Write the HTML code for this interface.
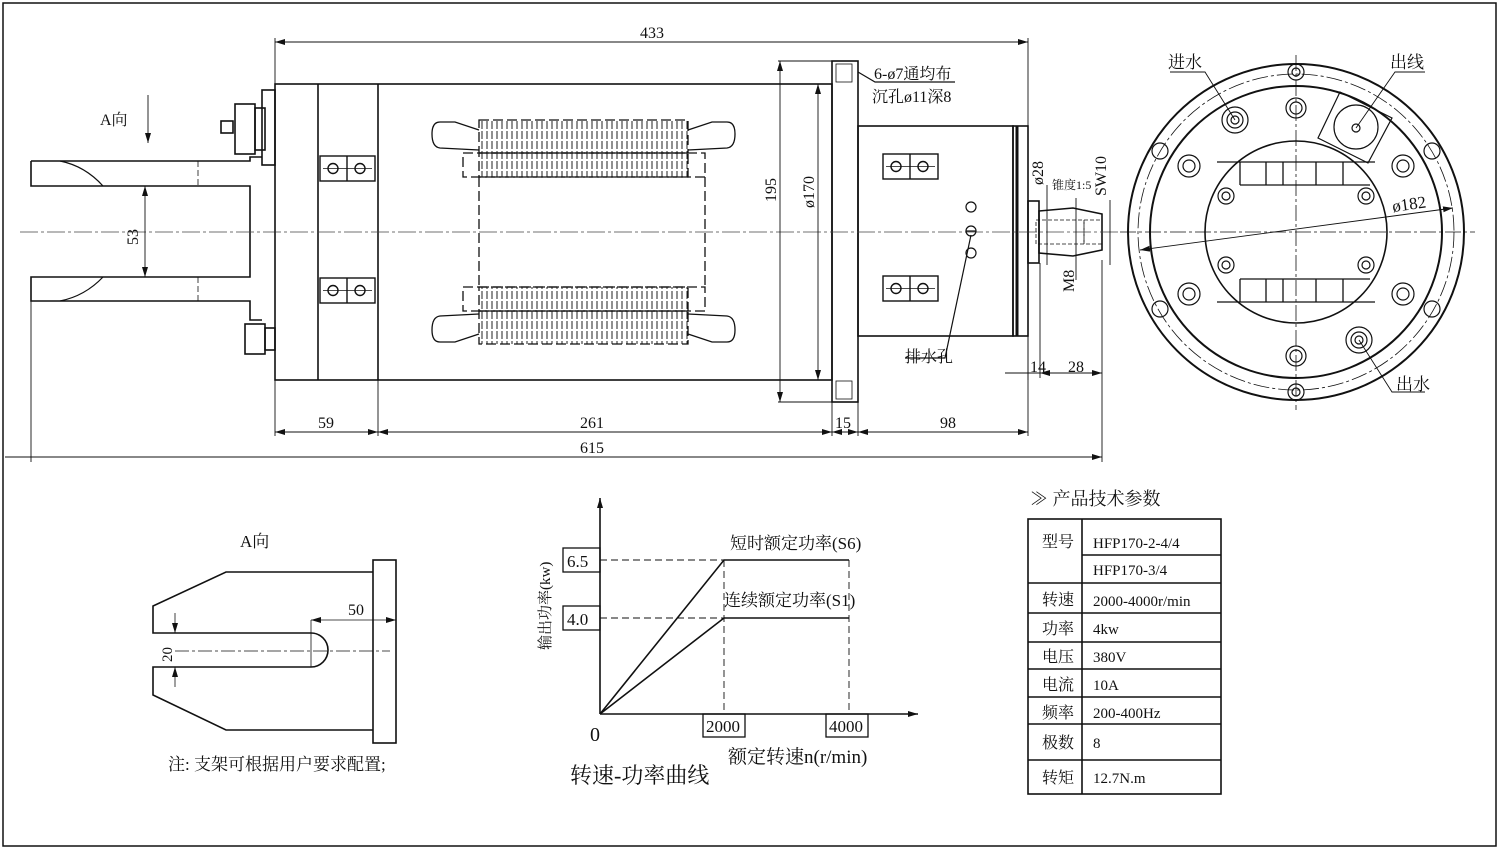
<!DOCTYPE html>
<html><head><meta charset="utf-8"><style>
html,body{margin:0;padding:0;background:#fff}
svg{display:block}
text{font-family:"Liberation Sans","Noto Sans CJK SC",sans-serif;fill:#111}
.t{font-family:"Liberation Serif","Noto Serif CJK SC",serif}
</style></head><body>
<svg width="1500" height="850" viewBox="0 0 1500 850" xmlns="http://www.w3.org/2000/svg">
<defs>
<marker id="a" viewBox="0 0 10 6" refX="10" refY="3" markerWidth="10" markerHeight="6" orient="auto-start-reverse" markerUnits="userSpaceOnUse"><path d="M0,0L10,3L0,6z" fill="#111"/></marker>
<pattern id="h" width="5" height="10" patternUnits="userSpaceOnUse"><line x1="2" y1="1" x2="2" y2="9" stroke="#222" stroke-width="1"/></pattern>
<g id="bb" fill="none" stroke="#111" stroke-width="1.4"><rect x="0" y="0" width="55" height="25"/><line x1="27" y1="0" x2="27" y2="25"/><circle cx="13" cy="12.5" r="5"/><circle cx="40" cy="12.5" r="5"/><line x1="3" y1="12.5" x2="52" y2="12.5" stroke-width="0.8"/></g>
</defs>
<rect x="3" y="3" width="1493" height="843" fill="none" stroke="#111" stroke-width="1.5"/>
<g fill="none" stroke="#111" stroke-width="1.6">
<path d="M31,161H250V157H262M31,161V186H250V277H31V301H250V320H262"/>
<path d="M60,161Q85,166 103,186M60,301Q85,296 103,277" stroke-width="1.2"/>
<line x1="198" y1="161" x2="198" y2="186" stroke-width="0.8" stroke-dasharray="6 3"/>
<line x1="198" y1="277" x2="198" y2="301" stroke-width="0.8" stroke-dasharray="6 3"/>
<rect x="262" y="90" width="13" height="75"/>
<rect x="235" y="104" width="20" height="50"/>
<rect x="255" y="108" width="10" height="42"/>
<rect x="221" y="121" width="12" height="12"/>
<rect x="245" y="324" width="20" height="30"/>
<rect x="265" y="328" width="10" height="22"/>
<rect x="275" y="84" width="557" height="296"/>
<line x1="318" y1="84" x2="318" y2="380"/>
<line x1="378" y1="84" x2="378" y2="380"/>
<rect x="832" y="61" width="26" height="341"/>
<rect x="858" y="126" width="155" height="210"/>
<rect x="1013" y="126" width="15" height="210"/>
<line x1="1017" y1="126" x2="1017" y2="336" stroke-width="3"/>
<rect x="1028" y="201" width="11" height="62"/>
<path d="M1039,211L1073,208L1102,214V250L1073,256L1039,253Z"/>
<rect x="1084" y="220" width="18" height="24" stroke-width="0.8" stroke-dasharray="4 2"/>
<rect x="1036" y="220" width="48" height="24" stroke-width="0.8" stroke-dasharray="4 2"/>
<rect x="836" y="64" width="16" height="18" stroke-width="0.8"/>
<rect x="836" y="381" width="16" height="18" stroke-width="0.8"/>
</g>
<line x1="20" y1="232" x2="1120" y2="232" stroke="#444" stroke-width="0.8" stroke-dasharray="18 3 3 3"/>
<g stroke="#111" stroke-width="1.3">
<rect x="479" y="120" width="209" height="33" fill="url(#h)" stroke-dasharray="10 4"/>
<rect x="479" y="153" width="209" height="24" fill="url(#h)" stroke-dasharray="10 4"/>
<rect x="463" y="153" width="242" height="24" fill="none" stroke-dasharray="10 4"/>
<rect x="479" y="287" width="209" height="24" fill="url(#h)" stroke-dasharray="10 4"/>
<rect x="479" y="311" width="209" height="33" fill="url(#h)" stroke-dasharray="10 4"/>
<rect x="463" y="287" width="242" height="24" fill="none" stroke-dasharray="10 4"/>
<line x1="479" y1="177" x2="479" y2="287" stroke-dasharray="10 4"/>
<line x1="705" y1="177" x2="705" y2="287" stroke-dasharray="10 4"/>
<g fill="none">
<path d="M479,130L455,122H440Q432,122 432,134Q432,147 440,148L479,150"/>
<path d="M688,130L712,122H727Q735,122 735,134Q735,147 727,148L688,150"/>
<path d="M479,334L455,342H440Q432,342 432,330Q432,317 440,316L479,314"/>
<path d="M688,334L712,342H727Q735,342 735,330Q735,317 727,316L688,314"/>
</g>
</g>
<use href="#bb" x="320" y="156"/><use href="#bb" x="320" y="278"/>
<use href="#bb" x="883" y="154"/><use href="#bb" x="883" y="276"/>
<g fill="none" stroke="#111" stroke-width="1.2">
<circle cx="971" cy="207" r="5"/><circle cx="971" cy="231" r="5"/><circle cx="971" cy="253" r="5"/>
<line x1="966" y1="231" x2="976" y2="231"/>
<path d="M971,235L945,358H905"/>
<path d="M858,72L875,82H955"/>
</g>
<g stroke="#111" stroke-width="0.9" fill="none">
<line x1="275" y1="38" x2="275" y2="436"/><line x1="1028" y1="38" x2="1028" y2="380"/>
<line x1="275" y1="42" x2="1028" y2="42" marker-start="url(#a)" marker-end="url(#a)"/>
<line x1="378" y1="380" x2="378" y2="436"/><line x1="832" y1="402" x2="832" y2="436"/><line x1="858" y1="336" x2="858" y2="436"/>
<line x1="1028" y1="336" x2="1028" y2="436"/>
<line x1="275" y1="432" x2="1028" y2="432"/>
<line x1="275" y1="432" x2="378" y2="432" marker-start="url(#a)" marker-end="url(#a)"/>
<line x1="378" y1="432" x2="832" y2="432" marker-start="url(#a)" marker-end="url(#a)"/>
<line x1="832" y1="432" x2="858" y2="432" marker-start="url(#a)" marker-end="url(#a)"/>
<line x1="858" y1="432" x2="1028" y2="432" marker-start="url(#a)" marker-end="url(#a)"/>
<line x1="31" y1="301" x2="31" y2="462"/><line x1="1102" y1="260" x2="1102" y2="462"/>
<line x1="5" y1="457" x2="1102" y2="457" marker-end="url(#a)"/>
<line x1="778" y1="61" x2="832" y2="61"/><line x1="778" y1="402" x2="832" y2="402"/>
<line x1="780" y1="61" x2="780" y2="402" marker-start="url(#a)" marker-end="url(#a)"/>
<line x1="818" y1="84" x2="818" y2="380" marker-start="url(#a)" marker-end="url(#a)"/>
<line x1="145" y1="186" x2="145" y2="277" marker-start="url(#a)" marker-end="url(#a)"/>
<line x1="148" y1="95" x2="148" y2="143" marker-end="url(#a)"/>
<line x1="1040" y1="263" x2="1040" y2="378"/>
<line x1="1005" y1="373" x2="1102" y2="373"/>
<line x1="1040" y1="373" x2="1102" y2="373" marker-start="url(#a)" marker-end="url(#a)"/>
<line x1="1047" y1="185" x2="1047" y2="265"/>
<line x1="1110" y1="200" x2="1110" y2="265"/>
<line x1="1076" y1="198" x2="1076" y2="280"/>
</g>
<g class="t" font-size="16">
<text x="640" y="38" class="t">433</text>
<text x="318" y="428" class="t">59</text>
<text x="580" y="428" class="t">261</text>
<text x="835" y="428" class="t">15</text>
<text x="940" y="428" class="t">98</text>
<text x="580" y="453" class="t">615</text>
<text x="1030" y="372" class="t">14</text>
<text x="1068" y="372" class="t">28</text>
<text x="874" y="79" class="t">6-ø7通均布</text>
<text x="872" y="102" class="t">沉孔ø11深8</text>
<text x="905" y="362" class="t">排水孔</text>
<text x="100" y="125" class="t">A向</text>
<text transform="translate(138,245) rotate(-90)" class="t">53</text>
<text transform="translate(776,202) rotate(-90)" class="t">195</text>
<text transform="translate(814,208) rotate(-90)" class="t">ø170</text>
<text transform="translate(1043,185) rotate(-90)" class="t">ø28</text>
<text transform="translate(1106,196) rotate(-90)" class="t">SW10</text>
<text transform="translate(1074,292) rotate(-90)" class="t">M8</text>
<text x="1052" y="189" class="t" font-size="12">锥度1:5</text>
</g>
<g fill="none" stroke="#111" stroke-width="1.6">
<circle cx="1296" cy="232" r="168" stroke-width="2"/>
<circle cx="1296" cy="232" r="158" stroke-width="0.8" stroke-dasharray="16 3 3 3"/>
<circle cx="1296" cy="232" r="146" stroke-width="2"/>
<circle cx="1296" cy="232" r="91"/>
<line x1="1120" y1="232" x2="1475" y2="232" stroke-width="0.8" stroke-dasharray="16 3 3 3"/>
<line x1="1296" y1="55" x2="1296" y2="410" stroke-width="0.8" stroke-dasharray="16 3 3 3"/>
<path d="M1217,162H1375M1240,185H1370M1240,162V185M1266,162V185M1283,162V185M1316,162V185M1343,162V185M1217,302H1375M1240,279H1370M1240,279V302M1266,279V302M1283,279V302M1316,279V302M1343,279V302" stroke-width="1.3"/>
<line x1="1140" y1="250" x2="1453" y2="208" stroke-width="0.9" marker-start="url(#a)" marker-end="url(#a)"/>
<g stroke-width="1.2">
<circle cx="1296" cy="72" r="8"/><circle cx="1296" cy="72" r="4"/>
<circle cx="1296" cy="392" r="8"/><circle cx="1296" cy="392" r="4"/>
<circle cx="1160" cy="151" r="8"/><circle cx="1432" cy="151" r="8"/>
<circle cx="1160" cy="309" r="8"/><circle cx="1432" cy="309" r="8"/>
<circle cx="1296" cy="108" r="10"/><circle cx="1296" cy="108" r="6"/>
<circle cx="1296" cy="356" r="10"/><circle cx="1296" cy="356" r="6"/>
<circle cx="1189" cy="166" r="11"/><circle cx="1189" cy="166" r="6"/>
<circle cx="1403" cy="166" r="11"/><circle cx="1403" cy="166" r="6"/>
<circle cx="1189" cy="294" r="11"/><circle cx="1189" cy="294" r="6"/>
<circle cx="1403" cy="294" r="11"/><circle cx="1403" cy="294" r="6"/>
<circle cx="1226" cy="196" r="8"/><circle cx="1226" cy="196" r="4"/>
<circle cx="1366" cy="196" r="8"/><circle cx="1366" cy="196" r="4"/>
<circle cx="1226" cy="265" r="8"/><circle cx="1226" cy="265" r="4"/>
<circle cx="1366" cy="265" r="8"/><circle cx="1366" cy="265" r="4"/>
<circle cx="1235" cy="120" r="13"/><circle cx="1235" cy="120" r="8"/><circle cx="1235" cy="120" r="4"/>
<circle cx="1359" cy="340" r="13"/><circle cx="1359" cy="340" r="8"/><circle cx="1359" cy="340" r="4"/>
<path d="M1340,92L1392,118L1368,163L1318,138Z"/>
<circle cx="1356" cy="127" r="22"/>
<circle cx="1356" cy="128" r="4"/>
<path d="M1235,120L1205,72H1170M1359,340L1392,392H1425M1356,128L1395,72H1425" stroke-width="0.9"/>
</g>
</g>
<g class="t" font-size="17">
<text x="1168" y="68" class="t">进水</text>
<text x="1390" y="68" class="t">出线</text>
<text x="1396" y="390" class="t">出水</text>
<text x="1393" y="212" class="t" transform="rotate(-8 1393 212)">ø182</text>
</g>
<g fill="none" stroke="#111" stroke-width="1.6">
<rect x="373" y="560" width="23" height="183"/>
<path d="M373,572H226L153,606V633H311A17,17 0 0 1 311,667H153V695L226,730H373"/>
<line x1="311" y1="633" x2="311" y2="667" stroke-width="0.8"/>
<line x1="175" y1="651" x2="390" y2="651" stroke-width="0.8" stroke-dasharray="14 3 3 3"/>
<line x1="311" y1="620" x2="396" y2="620" stroke-width="0.8" marker-start="url(#a)" marker-end="url(#a)"/>
<line x1="311" y1="620" x2="311" y2="633" stroke-width="0.8"/>
<line x1="175" y1="613" x2="175" y2="633" stroke-width="0.8" marker-end="url(#a)"/>
<line x1="175" y1="687" x2="175" y2="667" stroke-width="0.8" marker-end="url(#a)"/>
</g>
<text x="240" y="547" font-size="17" class="t">A向</text>
<text x="348" y="615" font-size="16" class="t">50</text>
<text transform="translate(172,662) rotate(-90)" font-size="15" class="t">20</text>
<text x="168" y="770" font-size="17" class="t">注:  支架可根据用户要求配置;</text>
<g fill="none" stroke="#111" stroke-width="1.6">
<line x1="600" y1="714" x2="600" y2="498" marker-end="url(#a)"/>
<line x1="600" y1="714" x2="918" y2="714" marker-end="url(#a)"/>
<path d="M600,714L724,560H849M600,714L724,618H849"/>
<path d="M600,560H724M600,618H724M724,560V714M849,560V714" stroke-width="0.9" stroke-dasharray="7 4"/>
<rect x="563" y="548" width="37" height="24" stroke-width="1.3"/>
<rect x="563" y="606" width="37" height="24" stroke-width="1.3"/>
<rect x="703" y="714" width="42" height="23" stroke-width="1.3"/>
<rect x="826" y="714" width="42" height="23" stroke-width="1.3"/>
</g>
<g class="t" font-size="17">
<text x="567" y="567" class="t">6.5</text>
<text x="567" y="625" class="t">4.0</text>
<text x="706" y="732" class="t">2000</text>
<text x="829" y="732" class="t">4000</text>
<text x="590" y="741" class="t" font-size="20">0</text>
<text x="730" y="549" class="t">短时额定功率(S6)</text>
<text x="724" y="606" class="t">连续额定功率(S1)</text>
<text x="728" y="763" class="t" font-size="19">额定转速n(r/min)</text>
<text x="570" y="783" class="t" font-size="22">转速-功率曲线</text>
<text transform="translate(550,650) rotate(-90)" font-size="15" class="t">输出功率(kw)</text>
</g>
<text x="1030" y="505" font-size="18" class="t">≫ 产品技术参数</text>
<g fill="none" stroke="#111" stroke-width="1.6">
<rect x="1028" y="519" width="193" height="275"/>
<line x1="1082" y1="519" x2="1082" y2="794"/>
<path d="M1082,555H1221M1028,583H1221M1028,613H1221M1028,642H1221M1028,669H1221M1028,697H1221M1028,724H1221M1028,760H1221"/>
</g>
<g class="t" font-size="16">
<text x="1042" y="547" class="t">型号</text><text x="1093" y="548" class="t" font-size="15">HFP170-2-4/4</text>
<text x="1093" y="575" class="t" font-size="15">HFP170-3/4</text>
<text x="1042" y="605" class="t">转速</text><text x="1093" y="606" class="t" font-size="15">2000-4000r/min</text>
<text x="1042" y="634" class="t">功率</text><text x="1093" y="634" class="t" font-size="15">4kw</text>
<text x="1042" y="662" class="t">电压</text><text x="1093" y="662" class="t" font-size="15">380V</text>
<text x="1042" y="690" class="t">电流</text><text x="1093" y="690" class="t" font-size="15">10A</text>
<text x="1042" y="718" class="t">频率</text><text x="1093" y="718" class="t" font-size="15">200-400Hz</text>
<text x="1042" y="748" class="t">极数</text><text x="1093" y="748" class="t" font-size="15">8</text>
<text x="1042" y="783" class="t">转矩</text><text x="1093" y="783" class="t" font-size="15">12.7N.m</text>
</g>
</svg>
</body></html>
